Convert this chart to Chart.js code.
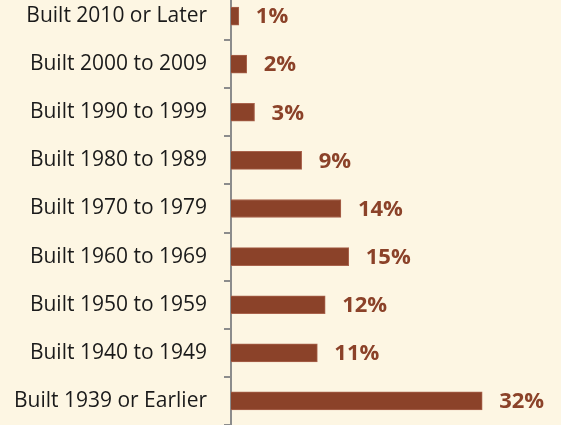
<!DOCTYPE html>
<html>
<head>
<meta charset="utf-8">
<script src="https://cdn.jsdelivr.net/npm/chart.js@4"></script>
<style>
  html, body { margin: 0; padding: 0; background: #fdf6e3; overflow: hidden; }
  #wrap { position: relative; width: 561px; height: 425px; overflow: hidden; }
  #myChart { position: absolute; left: 0; top: -8px; }
</style>
</head>
<body>
<div id="wrap"><canvas id="myChart" width="561" height="433"></canvas></div>
<script>
var yearLabels = ["Built 2010 or Later", "Built 2000 to 2009", "Built 1990 to 1999", "Built 1980 to 1989",
    "Built 1970 to 1979", "Built 1960 to 1969", "Built 1950 to 1959", "Built 1940 to 1949", "Built 1939 or Earlier"];
var shareValues = [1, 2, 3, 9, 14, 15, 12, 11, 32];
var barColor = "#8b4229";

// draws the bold % label right of each bar
var valueLabels = {
    id: 'valueLabels',
    afterDatasetsDraw: function (chart) {
        var ctx = chart.ctx;
        var meta = chart.getDatasetMeta(0);
        ctx.save();
        ctx.font = "bold 22px 'Open Sans'";
        ctx.fillStyle = barColor;
        ctx.textAlign = "left";
        ctx.textBaseline = "middle";
        meta.data.forEach(function (bar, i) {
            ctx.fillText(shareValues[i] + "%", bar.x + 17, bar.y + 1);
        });
        ctx.restore();
    }
};

new Chart("myChart", {
    type: "bar",
    data: {
        labels: yearLabels,
        datasets: [{
            data: shareValues,
            backgroundColor: barColor,
            borderColor: "#a9634c",
            borderWidth: 1,
            barThickness: 18
        }]
    },
    options: {
        indexAxis: "y",
        responsive: false,
        animation: false,
        layout: { padding: { left: 0, right: 16, top: 0, bottom: 0 } },
        plugins: {
            legend: { display: false },
            tooltip: { enabled: false }
        },
        scales: {
            x: {
                display: false,
                min: 0,
                max: 40
            },
            y: {
                afterFit: function (scale) {
                    scale.width = 231;
                    scale.paddingTop = 0;
                    scale.paddingBottom = 0;
                },
                grid: {
                    drawOnChartArea: false,
                    offset: true,
                    tickLength: 7,
                    color: "#8c8c8c",
                    lineWidth: 2
                },
                border: { color: "#8c8c8c", width: 2 },
                ticks: {
                    padding: 17,
                    color: "#1a1a1a",
                    font: { family: "Open Sans", size: 21 }
                }
            }
        }
    },
    plugins: [valueLabels]
});
</script>
</body>
</html>
